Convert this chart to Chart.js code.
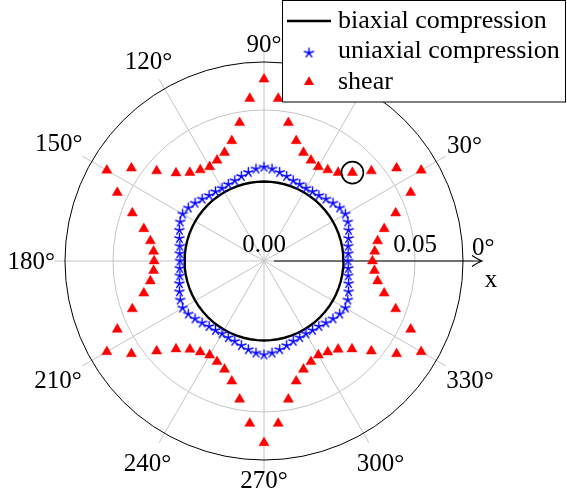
<!DOCTYPE html>
<html>
<head>
<meta charset="utf-8">
<script src="https://cdn.jsdelivr.net/npm/chart.js@4.4.0/dist/chart.umd.min.js"></script>
<style>
  html, body { margin: 0; padding: 0; background: #fff; }
  #wrap { width: 567px; height: 492px; }
</style>
</head>
<body>
<div id="wrap"><canvas id="c" width="567" height="492"></canvas></div>
<script>
// polar data: angle in degrees, radius in axis units
const angles = [
    0,   5,  10,  15,  20,  25,  30,  35,  40,  45,  50,  55,
   60,  65,  70,  75,  80,  85,  90,  95, 100, 105, 110, 115,
  120, 125, 130, 135, 140, 145, 150, 155, 160, 165, 170, 175,
  180, 185, 190, 195, 200, 205, 210, 215, 220, 225, 230, 235,
  240, 245, 250, 255, 260, 265, 270, 275, 280, 285, 290, 295,
  300, 305, 310, 315, 320, 325, 330, 335, 340, 345, 350, 355
];
const biaxialR = [
  0.0263, 0.0263, 0.0263, 0.0263, 0.0263, 0.0263, 0.0263, 0.0263, 0.0263, 0.0263, 0.0263, 0.0263,
  0.0263, 0.0263, 0.0263, 0.0263, 0.0263, 0.0263, 0.0263, 0.0263, 0.0263, 0.0263, 0.0263, 0.0263,
  0.0263, 0.0263, 0.0263, 0.0263, 0.0263, 0.0263, 0.0263, 0.0263, 0.0263, 0.0263, 0.0263, 0.0263,
  0.0263, 0.0263, 0.0263, 0.0263, 0.0263, 0.0263, 0.0263, 0.0263, 0.0263, 0.0263, 0.0263, 0.0263,
  0.0263, 0.0263, 0.0263, 0.0263, 0.0263, 0.0263, 0.0263, 0.0263, 0.0263, 0.0263, 0.0263, 0.0263,
  0.0263, 0.0263, 0.0263, 0.0263, 0.0263, 0.0263, 0.0263, 0.0263, 0.0263, 0.0263, 0.0263, 0.0263
];
const uniaxialR = [
  0.0278, 0.0280, 0.0283, 0.0290, 0.0298, 0.0306, 0.0311, 0.0306, 0.0298, 0.0290, 0.0283, 0.0280,
  0.0278, 0.0280, 0.0283, 0.0290, 0.0298, 0.0306, 0.0311, 0.0306, 0.0298, 0.0290, 0.0283, 0.0280,
  0.0278, 0.0280, 0.0283, 0.0290, 0.0298, 0.0306, 0.0311, 0.0306, 0.0298, 0.0290, 0.0283, 0.0280,
  0.0278, 0.0280, 0.0283, 0.0290, 0.0298, 0.0306, 0.0311, 0.0306, 0.0298, 0.0290, 0.0283, 0.0280,
  0.0278, 0.0280, 0.0283, 0.0290, 0.0298, 0.0306, 0.0311, 0.0306, 0.0298, 0.0290, 0.0283, 0.0280,
  0.0278, 0.0280, 0.0283, 0.0290, 0.0298, 0.0306, 0.0311, 0.0306, 0.0298, 0.0290, 0.0283, 0.0280
];
const shearR = [
  0.0359, 0.0368, 0.0382, 0.0412, 0.0464, 0.0536, 0.0601, 0.0536, 0.0464, 0.0414, 0.0382, 0.0368,
  0.0360, 0.0368, 0.0382, 0.0412, 0.0465, 0.0540, 0.0602, 0.0540, 0.0465, 0.0412, 0.0382, 0.0368,
  0.0360, 0.0368, 0.0382, 0.0412, 0.0464, 0.0536, 0.0601, 0.0536, 0.0464, 0.0412, 0.0382, 0.0367,
  0.0364, 0.0367, 0.0382, 0.0412, 0.0464, 0.0536, 0.0601, 0.0536, 0.0464, 0.0412, 0.0382, 0.0368,
  0.0360, 0.0368, 0.0382, 0.0412, 0.0465, 0.0540, 0.0602, 0.0540, 0.0465, 0.0412, 0.0382, 0.0368,
  0.0360, 0.0368, 0.0382, 0.0412, 0.0464, 0.0536, 0.0601, 0.0536, 0.0464, 0.0412, 0.0382, 0.0367
];
const markedPoint = [45, 0.0414];

const radialTicks = [0, 0.05];
const radialTickLabels = ['0.00', '0.05'];
const angleTicks = [0, 30, 60, 90, 120, 150, 180, 210, 240, 270, 300, 330];
const rMax = 0.0659;
const spokeEnd = 0.0695;
const seriesNames = ['biaxial compression', 'uniaxial compression', 'shear'];

const PX = 3020;          // pixels per axis unit
const CX = 264, CY = 261; // pole position on the canvas
const W = 567, H = 492;
const FONT = '"Liberation Serif", "Times New Roman", serif';

function toXY(deg, r) {
    const a = deg * Math.PI / 180;
    return {x: r * Math.cos(a), y: r * Math.sin(a)};
}

function starMark(color, size) {
    const c = document.createElement('canvas');
    c.width = 13;
    c.height = 13;
    const g = c.getContext('2d');
    g.strokeStyle = color;
    g.lineWidth = 1.4;
    g.lineCap = 'round';
    g.beginPath();
    for (let k = 0; k < 5; k++) {
        const a = (90 + 72 * k) * Math.PI / 180;
        g.moveTo(6.5, 6.5);
        g.lineTo(6.5 + size * Math.cos(a), 6.5 - size * Math.sin(a));
    }
    g.stroke();
    return c;
}
const star = starMark('#0000ff', 4.8);

const biaxialData = angles.map((a, i) => toXY(a, biaxialR[i]));
biaxialData.push(toXY(angles[0], biaxialR[0])); // close the loop
const uniaxialData = angles.map((a, i) => toXY(a, uniaxialR[i]));
const shearData = angles.map((a, i) => toXY(a, shearR[i]));

const polarGrid = {
    id: 'polarGrid',
    beforeDatasetsDraw(chart) {
        const {ctx, scales: {x, y}} = chart;
        const cx = x.getPixelForValue(0), cy = y.getPixelForValue(0);
        const unit = x.getPixelForValue(0.01) - cx;
        const px = v => v * unit / 0.01;
        ctx.save();
        // grid circles and spokes
        ctx.strokeStyle = '#c4c4c4';
        ctx.lineWidth = 1;
        radialTicks.forEach(r => {
            if (r <= 0) return;
            ctx.beginPath();
            ctx.arc(cx, cy, px(r), 0, Math.PI * 2);
            ctx.stroke();
        });
        angleTicks.forEach(deg => {
            const a = deg * Math.PI / 180;
            ctx.beginPath();
            ctx.moveTo(cx, cy);
            ctx.lineTo(cx + px(spokeEnd) * Math.cos(a), cy - px(spokeEnd) * Math.sin(a));
            ctx.stroke();
        });
        // outer boundary
        ctx.strokeStyle = '#000';
        ctx.lineWidth = 1;
        ctx.beginPath();
        ctx.arc(cx, cy, px(rMax), 0, Math.PI * 2);
        ctx.stroke();

        // angle labels, box corner kept just outside the boundary circle
        ctx.fillStyle = '#000';
        ctx.font = '25px ' + FONT;
        ctx.textAlign = 'center';
        ctx.textBaseline = 'alphabetic';
        const rLab = px(rMax) + 1;
        angleTicks.forEach(deg => {
            const txt = deg + '\u00b0';
            const a = deg * Math.PI / 180;
            const ux = Math.cos(a), uy = -Math.sin(a);
            if (deg === 0) {
                ctx.textAlign = 'left';
                ctx.fillText(txt, cx + px(spokeEnd) - 2, cy - 6);
                ctx.textAlign = 'center';
                return;
            }
            const hw = ctx.measureText(txt).width / 2 + 9;
            const hh = uy > 0 ? 19 : 17;
            const d = rLab + Math.abs(ux) * hw + Math.abs(uy) * hh;
            ctx.fillText(txt, cx + ux * d, cy + uy * d + 8);
        });

        // radial axis with arrow
        const tipX = cx + 218;
        ctx.strokeStyle = '#000';
        ctx.lineWidth = 1.2;
        ctx.beginPath();
        ctx.moveTo(cx + 10, cy);
        ctx.lineTo(tipX, cy);
        ctx.moveTo(tipX - 10, cy - 5.5);
        ctx.quadraticCurveTo(tipX - 4, cy - 1.5, tipX, cy);
        ctx.quadraticCurveTo(tipX - 4, cy + 1.5, tipX - 10, cy + 5.5);
        ctx.stroke();
        ctx.fillText('x', tipX + 9, cy + 26);

        // radial tick labels
        radialTicks.forEach((r, i) => {
            ctx.fillText(radialTickLabels[i], cx + px(r), cy - 9);
        });
        ctx.restore();
    }
};

const legendBox = {
    id: 'legendBox',
    afterDraw(chart) {
        const ctx = chart.ctx;
        ctx.save();
        ctx.fillStyle = '#fff';
        ctx.strokeStyle = '#000';
        ctx.lineWidth = 1;
        ctx.fillRect(282.5, 0.5, 283, 101.5);
        ctx.strokeRect(282.5, 0.5, 283, 101.5);
        const rows = [28, 58, 89];
        // biaxial sample line
        ctx.lineWidth = 2.4;
        ctx.beginPath();
        ctx.moveTo(287, rows[0] - 7);
        ctx.lineTo(331, rows[0] - 7);
        ctx.stroke();
        // star sample
        ctx.drawImage(star, 309 - 6.5, rows[1] - 5 - 6.5);
        // triangle sample
        const r = 5.8, tx = 309, ty = rows[2] - 7;
        ctx.fillStyle = '#ff0000';
        ctx.beginPath();
        ctx.moveTo(tx, ty - r);
        ctx.lineTo(tx + r * Math.sin(2 * Math.PI / 3), ty + r / 2);
        ctx.lineTo(tx - r * Math.sin(2 * Math.PI / 3), ty + r / 2);
        ctx.closePath();
        ctx.fill();
        ctx.fillStyle = '#000';
        ctx.font = '26px ' + FONT;
        ctx.textAlign = 'left';
        ctx.textBaseline = 'alphabetic';
        seriesNames.forEach((s, i) => ctx.fillText(s, 338, rows[i]));
        ctx.restore();
    }
};

new Chart(document.getElementById('c'), {
    type: 'scatter',
    data: {
        datasets: [
            {
                label: 'marked',
                data: [toXY(markedPoint[0], markedPoint[1])],
                pointStyle: 'circle',
                pointRadius: 11,
                borderColor: '#000',
                borderWidth: 1.6,
                backgroundColor: 'rgba(0,0,0,0)',
                order: 0
            },
            {
                label: seriesNames[2],
                data: shearData,
                pointStyle: 'triangle',
                pointRadius: 5.8,
                backgroundColor: '#ff0000',
                borderColor: '#ff0000',
                borderWidth: 0.5,
                order: 1
            },
            {
                label: seriesNames[1],
                data: uniaxialData,
                pointStyle: star,
                pointRadius: 4.5,
                order: 2
            },
            {
                label: seriesNames[0],
                data: biaxialData,
                showLine: true,
                borderColor: '#000',
                borderWidth: 2.4,
                pointRadius: 0,
                tension: 0,
                order: 3
            }
        ]
    },
    options: {
        responsive: false,
        animation: false,
        devicePixelRatio: 1,
        events: [],
        layout: {padding: 0, autoPadding: false},
        scales: {
            x: {type: 'linear', display: false, min: -CX / PX, max: (W - CX) / PX},
            y: {type: 'linear', display: false, min: -(H - CY) / PX, max: CY / PX}
        },
        plugins: {
            legend: {display: false},
            tooltip: {enabled: false}
        }
    },
    plugins: [polarGrid, legendBox]
});
</script>
</body>
</html>
